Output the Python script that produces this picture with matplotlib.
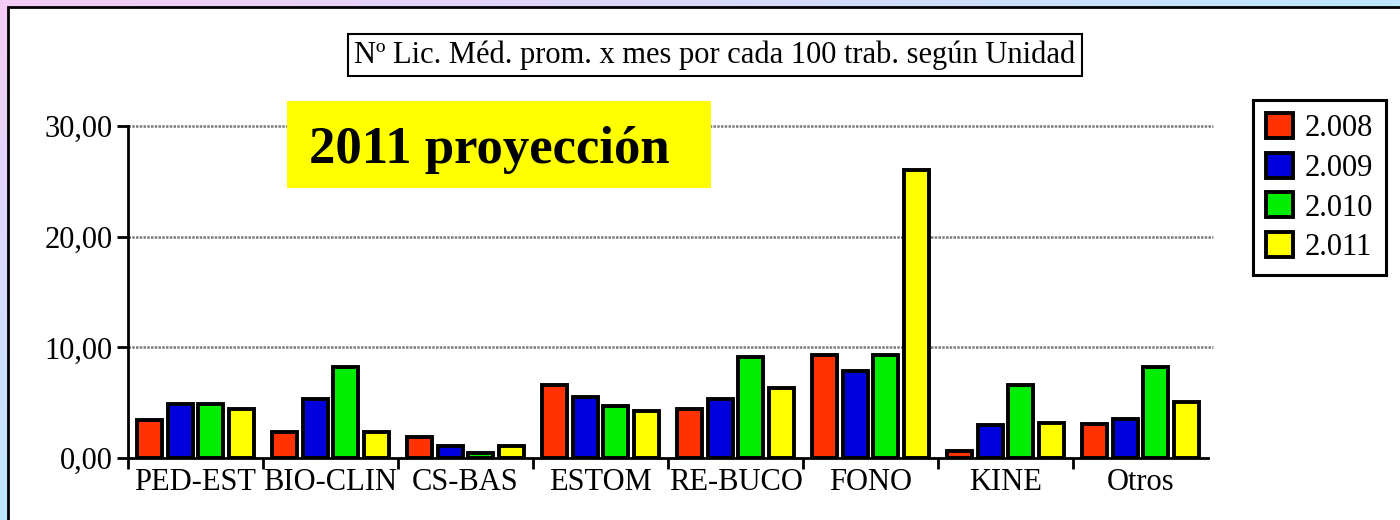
import numpy as np
import matplotlib
matplotlib.use("Agg")
import matplotlib.pyplot as plt
from matplotlib.patches import Rectangle

# ---- data -------------------------------------------------------------
categories = ["PED-EST", "BIO-CLIN", "CS-BAS", "ESTOM", "RE-BUCO", "FONO", "KINE", "Otros"]
series_labels = ["2.008", "2.009", "2.010", "2.011"]
v2008 = [3.4, 2.35, 1.9, 6.6, 4.4, 9.3, 0.6, 3.1]
v2009 = [4.9, 5.3, 1.1, 5.5, 5.3, 7.9, 3.0, 3.5]
v2010 = [4.9, 8.2, 0.45, 4.7, 9.1, 9.3, 6.6, 8.2]
v2011 = [4.4, 2.35, 1.1, 4.25, 6.3, 26.0, 3.2, 5.1]
y_ticks = [0, 10, 20, 30]
y_tick_labels = ["0,00", "10,00", "20,00", "30,00"]
title_text = "Nº Lic. Méd. prom. x mes por cada 100 trab. según Unidad"
badge_text = "2011 proyección"

colors = ["#FF3300", "#0000DD", "#00EE00", "#FFFF00"]
serif = ["Liberation Serif", "DejaVu Serif"]

W, H = 1400, 520
fig = plt.figure(figsize=(W / 100, H / 100), dpi=100)

def fx(px):
    return px / W

def fy(py):
    return 1 - py / H

# ---- background: diagonal pink-to-blue gradient with white panel -------
bg = fig.add_axes([0, 0, 1, 1], zorder=-10)
xx, yy = np.meshgrid(np.linspace(0, 1, 280), np.linspace(0, 1, 104))
t = np.clip(xx + yy, 0, 1)
pink = np.array([245, 204, 248]) / 255
blue = np.array([190, 232, 252]) / 255
img = pink[None, None, :] * (1 - t[..., None]) + blue[None, None, :] * t[..., None]
bg.imshow(img, extent=[0, 1, 0, 1], origin="upper", aspect="auto")
bg.add_patch(Rectangle((fx(8), -0.1), 1.2, fy(7) + 0.1, facecolor="white",
                       edgecolor="black", linewidth=2))
bg.set_xlim(0, 1)
bg.set_ylim(0, 1)
bg.axis("off")

# ---- main axes ---------------------------------------------------------
ax = fig.add_axes([fx(128), fy(458), fx(1208) - fx(128), fy(126) - fy(458)])
ax.set_facecolor("none")

x = np.arange(len(categories))
step = 0.226
bw = 0.185
for i, (vals, col, lab) in enumerate(zip([v2008, v2009, v2010, v2011], colors, series_labels)):
    ax.bar(x + (i - 1.5) * step, vals, width=bw, color=col, edgecolor="black",
           linewidth=2.8, label=lab, zorder=3)

ax.set_xlim(-0.5, len(categories) - 0.5)
ax.set_ylim(0, 30)

# horizontal grid lines, running slightly past the end of the axis
for yv in y_ticks[1:]:
    ax.plot([-0.5, len(categories) - 0.46], [yv, yv], color="#7a7a7a", lw=1.8,
            ls=(0, (1, 0.5)), clip_on=False, zorder=1)

for s in ["top", "right"]:
    ax.spines[s].set_visible(False)
for s in ["left", "bottom"]:
    ax.spines[s].set_linewidth(2)
    ax.spines[s].set_zorder(4)

ax.set_yticks(y_ticks)
ax.set_yticklabels(y_tick_labels, fontfamily=serif, fontsize=22)
ax.tick_params(axis="y", length=8, width=2, pad=3)

ax.set_xticks(np.arange(len(categories)) - 0.5)
ax.set_xticklabels([])
ax.tick_params(axis="x", which="major", length=8, width=2, direction="out")
ax.set_xticks(x, minor=True)
ax.set_xticklabels(categories, minor=True, fontfamily=serif, fontsize=22)
ax.tick_params(axis="x", which="minor", length=0, pad=7)

# ---- legend ------------------------------------------------------------
leg = ax.legend(loc="upper left", bbox_to_anchor=(fx(1253), fy(100)),
                bbox_transform=fig.transFigure, borderaxespad=0,
                prop={"family": serif, "size": 22}, fancybox=False,
                edgecolor="black", framealpha=1, handlelength=0.88,
                handleheight=0.88, handletextpad=0.4, labelspacing=0.32,
                borderpad=0.42)
leg.get_frame().set_linewidth(2.2)

# ---- title box ---------------------------------------------------------
fig.text(fx(715), fy(55), title_text, ha="center", va="center",
         fontfamily=serif, fontsize=22,
         bbox=dict(boxstyle="square,pad=0.22", facecolor="white", edgecolor="black",
                   linewidth=1.5))

# ---- yellow badge ------------------------------------------------------
fig.add_artist(Rectangle((fx(287), fy(188)), fx(711) - fx(287), fy(101) - fy(188),
                         transform=fig.transFigure, facecolor="#FFFF00",
                         edgecolor="none", zorder=5))
fig.text(fx(489), fy(150), badge_text, ha="center", va="center",
         fontfamily=serif, fontsize=38, fontweight="bold", zorder=6)

fig.savefig("out.png", dpi=100)
